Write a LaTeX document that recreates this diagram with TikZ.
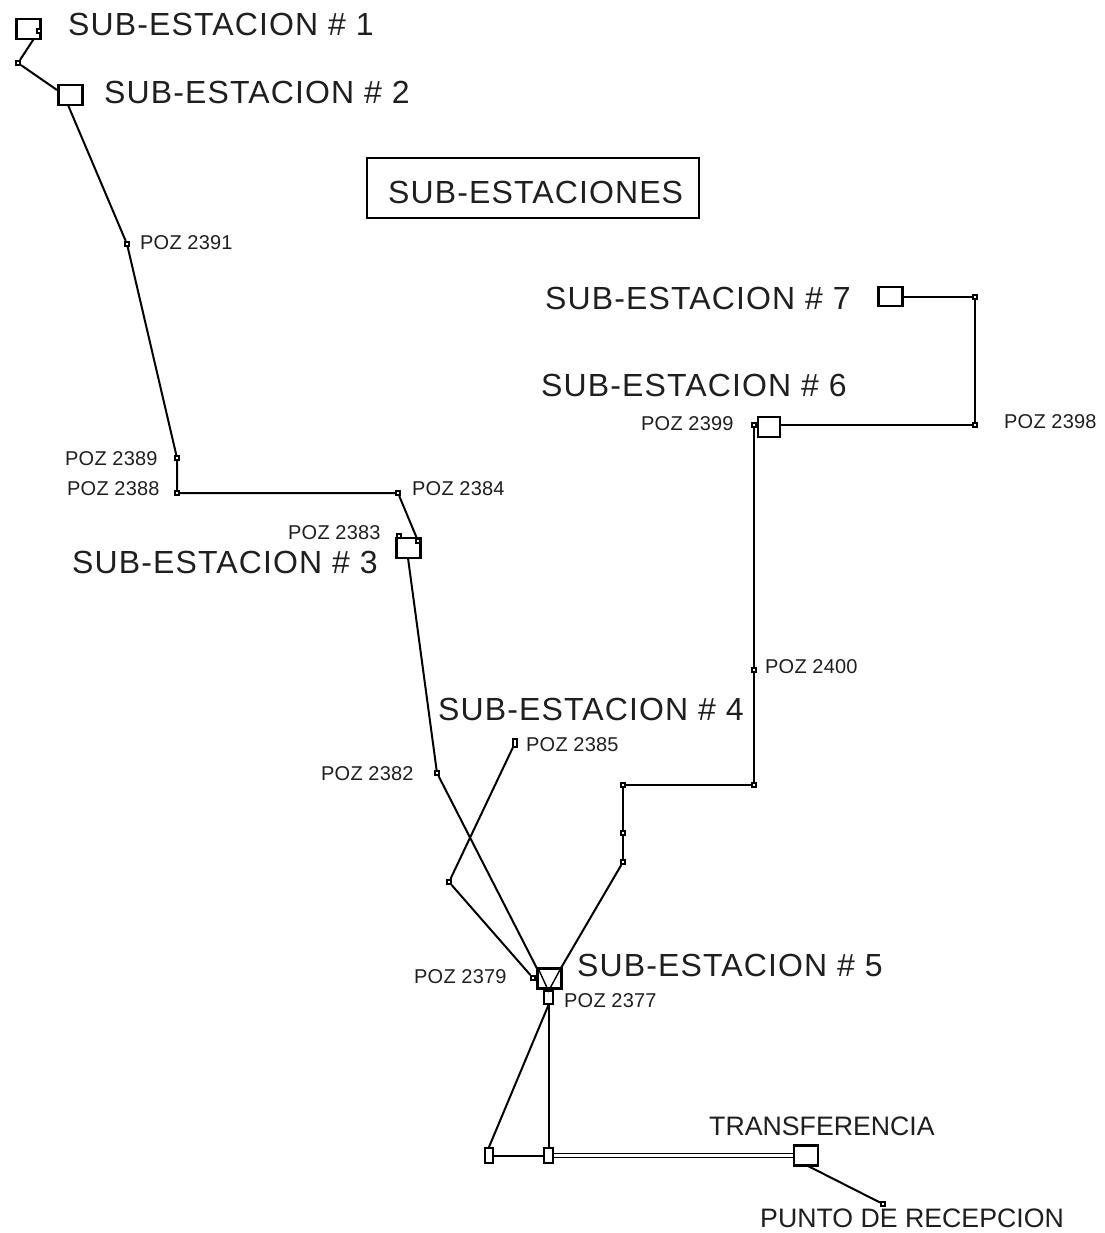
\documentclass[tikz,border=0pt]{standalone}
\usepackage{fontspec}
\setmainfont{Liberation Sans}
\newfontfamily\bigf[LetterSpace=3.5]{Liberation Sans}
\newfontfamily\pozf[LetterSpace=1]{Liberation Sans}
\tikzset{
  subbox/.style={draw=black,line width=2.2pt,fill=white,inner sep=0pt},
  pt/.style={draw=black,line width=1.6pt,fill=white,inner sep=0pt,minimum size=4.5pt},
  tall/.style={draw=black,line width=2pt,fill=white,inner sep=0pt,minimum width=8.5pt,minimum height=15pt},
  wire/.style={line width=2pt,black},
  big/.style={anchor=base west,inner sep=0pt,text=black!88,font=\fontsize{32}{32}\bigf},
  poz/.style={anchor=base west,inner sep=0pt,text=black!88,font=\fontsize{20}{20}\pozf},
  mid/.style={anchor=base west,inner sep=0pt,text=black!88,font=\fontsize{26.7}{27}\selectfont},
}
\begin{document}
\begin{tikzpicture}[x=1pt,y=-1pt]
\useasboundingbox (0,0) rectangle (1104,1233);
% free junction points
\node[pt] (p1a) at (39,31) {};
\node[pt] (p1b) at (18,63) {};
\coordinate (s2w) at (57,90);
\coordinate (s2b) at (68,105);
\node[pt] (p2391) at (127,244) {};
\node[pt] (p2389) at (177,458) {};
\node[pt] (p2388) at (177,493) {};
\node[pt] (p2384) at (398,493) {};
\coordinate (s3b) at (408,558);
\node[pt] (p2382) at (437,773) {};
\node[pt,minimum height=8pt] (p2385) at (515,743) {};
\node[pt] (pj) at (449,882) {};
\node[pt] (p2379) at (533,978) {};
\node[pt] (pa) at (623,862) {};
\node[pt] (pb) at (623,833) {};
\node[pt] (pc) at (623,785) {};
\node[pt] (pd) at (754,785) {};
\node[pt] (p2400) at (754,670) {};
\node[pt] (p2399) at (754,425) {};
\node[pt] (pe) at (975,425) {};
\node[pt] (pf) at (975,297) {};
\node[pt] (pg) at (883,1204) {};
\coordinate (s5tl) at (538,968);
\coordinate (s5tr) at (561,968);
\coordinate (s5c) at (548.5,991);
\coordinate (s6r) at (780,425);
\coordinate (s7r) at (903,297);
\coordinate (tb) at (806,1165);

% connectors (behind the boxes)
\draw[wire] (p1a) -- (p1b) -- (s2w);
\draw[wire] (s2b) -- (p2391) -- (p2389) -- (p2388) -- (p2384);
\draw[wire] (s3b) -- (p2382) -- (s5c);
\draw[wire] (p2385) -- (pj) -- (p2379);
\draw[wire] (pa) -- (pb) -- (pc) -- (pd) -- (p2400) -- (p2399);

% boxes
\node[subbox,minimum height=20pt,minimum width=24pt] (s1) at (28.5,29) {};
\node[subbox,minimum height=20pt,minimum width=24pt] (s2) at (70.5,95) {};
\node[subbox,minimum height=20pt,minimum width=24pt] (s3) at (408.5,548) {};
\node[subbox,minimum height=20pt,minimum width=24pt] (s5) at (549.5,978.5) {};
\node[subbox,minimum height=20pt,minimum width=22pt] (s6) at (769,427) {};
\node[subbox,minimum height=19pt,minimum width=24pt] (s7) at (890.5,296.5) {};
\node[subbox,minimum height=20pt,minimum width=24pt] (tr) at (806,1155.5) {};
\node[tall,minimum height=13pt] (r0) at (548.5,997.5) {};
\node[tall] (r1) at (548.5,1155.5) {};
\node[tall] (r2) at (489,1155.5) {};

% redraw inner details on top of boxes
\node[pt] at (39,31) {};
\node[pt] at (399,536) {};
\node[pt] (p3b) at (418,541) {};
\draw[wire] (p2384) -- (p3b);
\draw[line width=1.4pt] (s5tl) -- (s5c) -- (s5tr);
\draw[wire] (s5tr) -- (pa);
\draw[wire] (s6r) -- (pe) -- (pf) -- (s7r);
\draw[wire] (r0) -- (r1);
\draw[wire] (r0.south) -- (r2.north);
\draw[wire] (r1) -- (r2);
\draw[line width=1.7pt] ([yshift=-2pt]r1.east) -- ([yshift=-2pt]tr.west);
\draw[line width=1.7pt] ([yshift=2pt]r1.east) -- ([yshift=2pt]tr.west);
\draw[wire] (tb) -- (pg);
\node[pt] at (533,978) {};
\node[pt] at (754,425) {};

% title
\node[draw=black,line width=1.8pt,minimum width=332pt,minimum height=60pt,inner sep=0pt] (title) at (533,188) {};
\node[big] (t0) at (388,204) {SUB-ESTACIONES};

% labels
\node[big] (l1) at (68,36) {SUB-ESTACION \# 1};
\node[big] (l2) at (104,104) {SUB-ESTACION \# 2};
\node[big] (l3) at (72,573) {SUB-ESTACION \# 3};
\node[big] (l4) at (438,720) {SUB-ESTACION \# 4};
\node[big] (l5) at (577,976) {SUB-ESTACION \# 5};
\node[big] (l6) at (541,396) {SUB-ESTACION \# 6};
\node[big] (l7) at (545,309) {SUB-ESTACION \# 7};
\node[poz] (z1) at (140,250) {POZ 2391};
\node[poz] (z2) at (65,465) {POZ 2389};
\node[poz] (z3) at (67,495) {POZ 2388};
\node[poz] (z4) at (412,495) {POZ 2384};
\node[poz] (z5) at (288,539) {POZ 2383};
\node[poz] (z6) at (765,673) {POZ 2400};
\node[poz] (z7) at (526,751) {POZ 2385};
\node[poz] (z8) at (321,780) {POZ 2382};
\node[poz] (z9) at (414,983) {POZ 2379};
\node[poz] (z10) at (564,1007) {POZ 2377};
\node[poz] (z11) at (641,430) {POZ 2399};
\node[poz] (z12) at (1004,428) {POZ 2398};
\node[mid] (m1) at (709,1135) {TRANSFERENCIA};
\node[mid] (m2) at (760,1227) {PUNTO DE RECEPCION};
\end{tikzpicture}
\end{document}
